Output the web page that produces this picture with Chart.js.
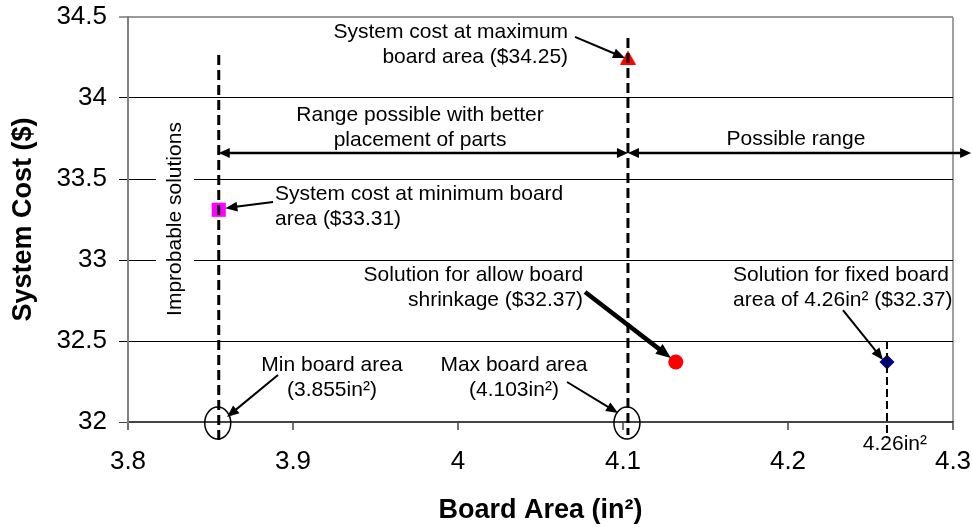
<!DOCTYPE html>
<html>
<head>
<meta charset="utf-8">
<title>System cost vs board area</title>
<style>
  html, body { margin: 0; padding: 0; background: #fff; }
  canvas { display: block; }
</style>
<script src="https://cdn.jsdelivr.net/npm/chart.js@4/dist/chart.umd.min.js"></script>
</head>
<body>
<canvas id="chart" width="972" height="527"></canvas>
<script>
// Axis tick labels
const xTickLabels = ['3.8', '3.9', '4', '4.1', '4.2', '4.3'];
const yTickLabels = ['32', '32.5', '33', '33.5', '34', '34.5'];

// Board areas (in²)
const minBoardArea = 3.855;
const maxBoardArea = 4.103;
const fixedBoardArea = 4.26;

// Solutions: [board area in², system cost $]
const costAtMinArea = [minBoardArea, 33.31];
const costAtMaxArea = [maxBoardArea, 34.25];
const shrinkSolution = [4.132, 32.37];
const fixedSolution = [fixedBoardArea, 32.37];

const FONT = "'Liberation Sans', Arial, Helvetica, sans-serif";

// Vertical dashed guides at the board-area limits (extend a little below the axis)
const guides = [
  { x: minBoardArea, from: 34.265, to: 31.877, width: 3, dash: [10, 5] },
  { x: maxBoardArea, from: 34.37, to: 31.92, width: 3, dash: [10, 5] },
  { x: fixedBoardArea, from: 32.5, to: 31.9, width: 2, dash: [8, 4] }
];

// Range arrows (double headed) drawn at one cost level
const rangeLevel = 33.66;
const ranges = [
  [minBoardArea, maxBoardArea],
  [maxBoardArea, 4.311]
];

// Callout pointers: from the text towards the mark, in data units
const pointers = [
  { from: [3.8879, 33.358], to: [3.859, 33.32], w: 2 },
  { from: [4.0709, 34.377], to: [4.1012, 34.247], w: 2 },
  { from: [3.8909, 32.29], to: [3.860, 32.031], w: 2 },
  { from: [4.0661, 32.247], to: [4.097, 32.056], w: 2 },
  { from: [4.077, 32.802], to: [4.129, 32.395], w: 4.5 },
  { from: [4.2333, 32.691], to: [4.2576, 32.383], w: 2 }
];

// Callout texts, anchored in data units (first line middle)
const notes = [
  { x: 4.0667, y: 34.404, align: 'right', lines: ['System cost at maximum', 'board area ($34.25)'] },
  { x: 3.977, y: 33.895, align: 'center', lines: ['Range possible with better', 'placement of parts'] },
  { x: 4.2048, y: 33.747, align: 'center', lines: ['Possible range'] },
  { x: 3.8891, y: 33.408, align: 'left', lines: ['System cost at minimum board', 'area ($33.31)'] },
  { x: 3.9236, y: 32.352, align: 'center', lines: ['Min board area', '(3.855in²)'] },
  { x: 4.0339, y: 32.352, align: 'center', lines: ['Max board area', '(4.103in²)'] },
  { x: 4.0758, y: 32.908, align: 'right', lines: ['Solution for allow board', 'shrinkage ($32.37)'] },
  { x: 4.1667, y: 32.908, align: 'left', lines: ['Solution for fixed board', 'area of 4.26in² ($32.37)'] },
  { x: 4.2648, y: 31.860, align: 'center', lines: ['4.26in²'] }
];
const improbableLabel = { x: 3.8285, y: 33.253, text: 'Improbable solutions' };

// Triangle marker, centred on its bounding box
function triangleMarker(w, h, color) {
  const c = document.createElement('canvas');
  c.width = w; c.height = h;
  const g = c.getContext('2d');
  g.fillStyle = color;
  g.beginPath();
  g.moveTo(w / 2, 0);
  g.lineTo(w, h);
  g.lineTo(0, h);
  g.closePath();
  g.fill();
  return c;
}

function toPx(chart, x, y) {
  return [chart.scales.x.getPixelForValue(x), chart.scales.y.getPixelForValue(y)];
}

function head(ctx, from, tip, len, half) {
  const a = Math.atan2(tip[1] - from[1], tip[0] - from[0]);
  const bx = tip[0] - len * Math.cos(a), by = tip[1] - len * Math.sin(a);
  ctx.beginPath();
  ctx.moveTo(tip[0], tip[1]);
  ctx.lineTo(bx + half * Math.sin(a), by - half * Math.cos(a));
  ctx.lineTo(bx - half * Math.sin(a), by + half * Math.cos(a));
  ctx.closePath();
  ctx.fill();
}

function arrow(ctx, p1, p2, width, len, half, both) {
  const a = Math.atan2(p2[1] - p1[1], p2[0] - p1[0]);
  const s = both ? len * 0.7 : 0;
  const e = len * 0.7;
  ctx.lineWidth = width;
  ctx.beginPath();
  ctx.moveTo(p1[0] + s * Math.cos(a), p1[1] + s * Math.sin(a));
  ctx.lineTo(p2[0] - e * Math.cos(a), p2[1] - e * Math.sin(a));
  ctx.stroke();
  head(ctx, p1, p2, len, half);
  if (both) head(ctx, p2, p1, len, half);
}

const calloutPlugin = {
  id: 'callouts',
  beforeDatasetsDraw(chart) {
    // rotated label sits on a white strip that interrupts the gridlines
    const ctx = chart.ctx;
    const [cx, cy] = toPx(chart, improbableLabel.x, improbableLabel.y);
    ctx.save();
    ctx.fillStyle = '#fff';
    ctx.fillRect(cx - 19, cy - 100, 38, 200);
    ctx.translate(cx, cy);
    ctx.rotate(-Math.PI / 2);
    ctx.fillStyle = '#000';
    ctx.font = '21px ' + FONT;
    ctx.textAlign = 'center';
    ctx.textBaseline = 'middle';
    ctx.fillText(improbableLabel.text, 0, 0);
    ctx.restore();
  },
  afterDatasetsDraw(chart) {
    const ctx = chart.ctx;
    ctx.save();
    ctx.strokeStyle = '#000';
    ctx.fillStyle = '#000';
    ctx.lineCap = 'butt';

    // board-area limit rings on the x axis
    ctx.lineWidth = 1.5;
    [minBoardArea, maxBoardArea].forEach(v => {
      const [x, y] = toPx(chart, v, 32);
      ctx.beginPath();
      ctx.ellipse(x - 1, y + 1, 13, 16, 0, 0, Math.PI * 2);
      ctx.stroke();
    });

    // range arrows
    ranges.forEach(r => {
      arrow(ctx, toPx(chart, r[0], rangeLevel), toPx(chart, r[1], rangeLevel), 2.5, 11, 5, true);
    });

    // callout pointers
    pointers.forEach(p => {
      const big = p.w > 3;
      arrow(ctx, toPx(chart, p.from[0], p.from[1]), toPx(chart, p.to[0], p.to[1]), p.w, big ? 15 : 12, big ? 6 : 5, false);
    });

    // callout texts
    ctx.font = '21px ' + FONT;
    ctx.textBaseline = 'middle';
    notes.forEach(n => {
      const [x, y] = toPx(chart, n.x, n.y);
      ctx.textAlign = n.align;
      n.lines.forEach((line, i) => ctx.fillText(line, x, y + i * 25));
    });
    ctx.restore();
  }
};

const guideSets = guides.map(g => ({
  data: [{ x: g.x, y: g.from }, { x: g.x, y: g.to }],
  showLine: true,
  borderColor: '#000',
  borderWidth: g.width,
  borderDash: g.dash,
  pointRadius: 0,
  clip: false,
  order: 0
}));

function marker(p, style, color, radius) {
  return {
    data: [{ x: p[0], y: p[1] }],
    pointStyle: style,
    pointRadius: radius,
    pointBackgroundColor: color,
    pointBorderColor: color,
    pointBorderWidth: 0,
    showLine: false,
    clip: false,
    order: 1
  };
}

const markerSets = [
  marker(costAtMinArea, 'rect', '#ff00ff', 10),
  marker(costAtMaxArea, triangleMarker(16, 14, '#ff0000'), '#ff0000', 8),
  marker(shrinkSolution, 'circle', '#ff0000', 7.5),
  marker(fixedSolution, 'rectRot', '#000080', 7.5)
];

function labelFor(list, v) {
  const t = list.find(s => Math.abs(Number(s) - v) < 1e-6);
  return t === undefined ? '' : t;
}

new Chart(document.getElementById('chart'), {
  type: 'scatter',
  data: { datasets: [...guideSets, ...markerSets] },
  options: {
    responsive: false,
    animation: false,
    devicePixelRatio: 1,
    layout: { padding: { top: 17, right: 19, left: 0, bottom: 0 } },
    plugins: { legend: { display: false }, tooltip: { enabled: false } },
    scales: {
      x: {
        type: 'linear',
        min: 3.8,
        max: 4.3,
        afterFit(s) { s.height = 105; s.paddingLeft = 0; s.paddingRight = 0; },
        ticks: {
          stepSize: 0.1,
          autoSkip: false,
          maxRotation: 0,
          color: '#000',
          padding: 16,
          font: { family: FONT, size: 26 },
          callback: v => labelFor(xTickLabels, v)
        },
        grid: {
          drawOnChartArea: true,
          color: c => (c.tick && Math.abs(c.tick.value - 4.3) < 1e-6) ? '#a0a0a0' : 'rgba(0,0,0,0)',
          lineWidth: 2,
          tickLength: 8,
          tickColor: '#444',
          tickWidth: 1.5
        },
        border: { color: '#444', width: 1.5 },
        title: {
          display: true,
          text: 'Board Area (in²)',
          color: '#000',
          font: { family: FONT, size: 27, weight: 'bold' },
          padding: { top: 0, bottom: 0 }
        }
      },
      y: {
        type: 'linear',
        min: 32,
        max: 34.5,
        afterFit(s) { s.width = 128; s.paddingTop = 0; s.paddingBottom = 0; },
        ticks: {
          stepSize: 0.5,
          color: '#000',
          padding: 12,
          font: { family: FONT, size: 26 },
          callback: v => labelFor(yTickLabels, v)
        },
        grid: {
          color: c => {
            const v = c.tick ? c.tick.value : 0;
            if (Math.abs(v - 34.5) < 1e-6) return '#999';
            if (Math.abs(v - 32) < 1e-6) return '#444';
            return '#000';
          },
          lineWidth: c => (c.tick && Math.abs(c.tick.value - 34.5) < 1e-6) ? 2 : 1,
          tickLength: 9
        },
        border: { color: '#808080', width: 2 },
        title: {
          display: true,
          text: 'System Cost ($)',
          color: '#000',
          font: { family: FONT, size: 27, weight: 'bold' },
          padding: { top: 7, bottom: 0 }
        }
      }
    }
  },
  plugins: [calloutPlugin]
});
</script>
</body>
</html>
